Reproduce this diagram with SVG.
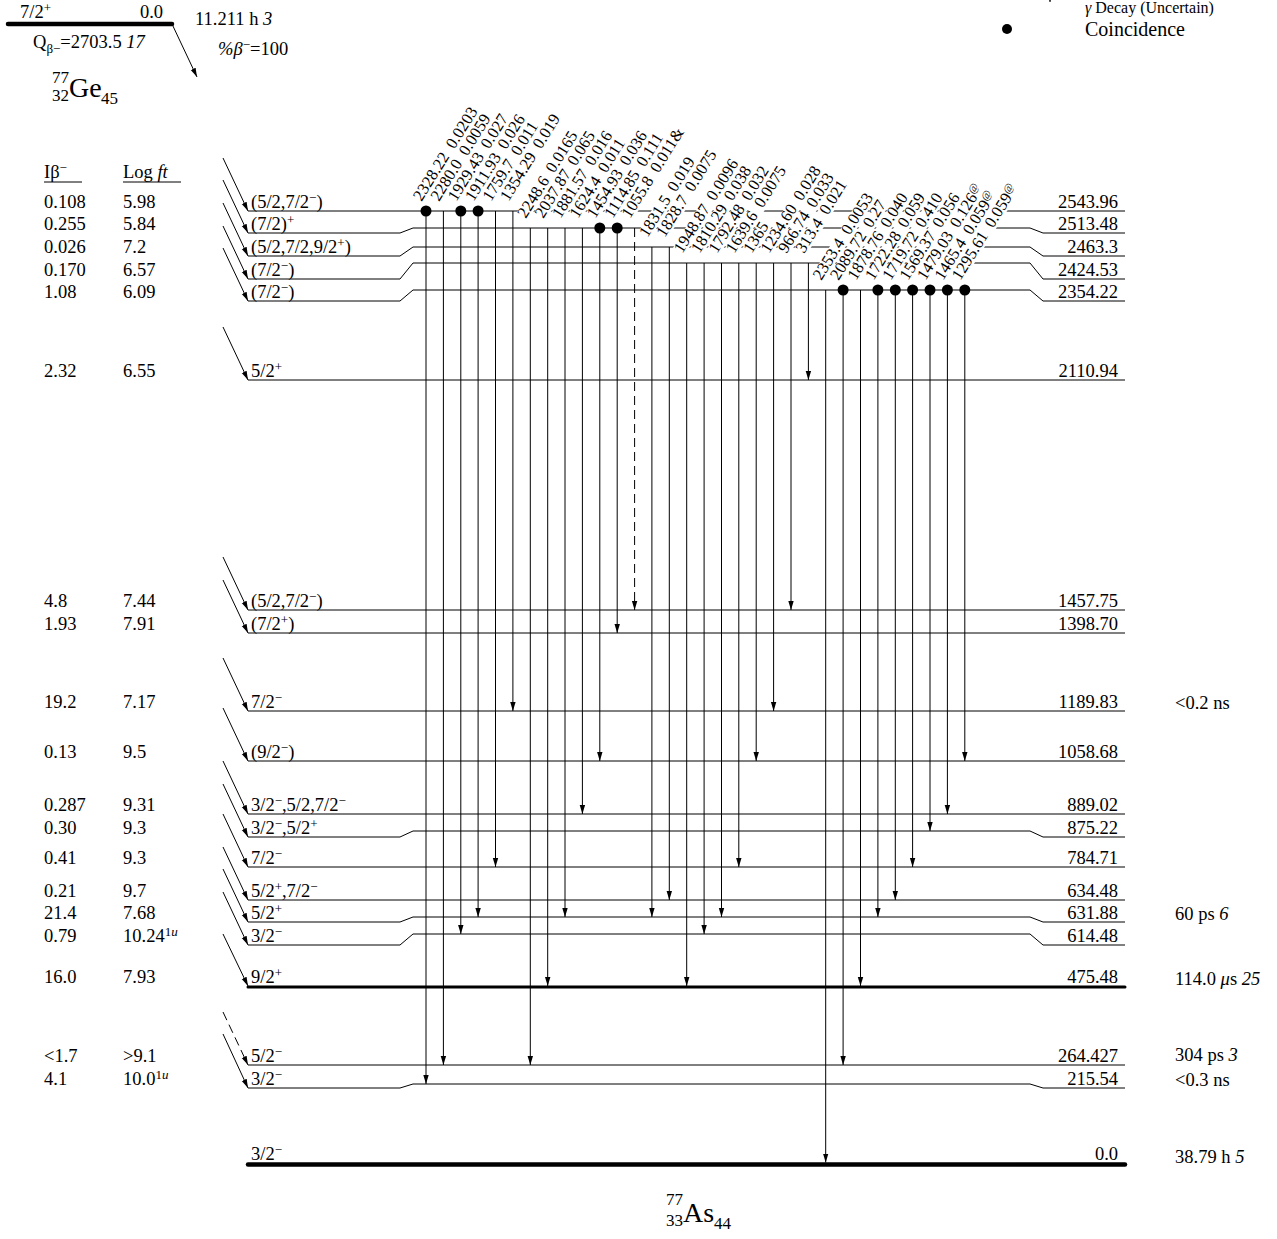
<svg xmlns="http://www.w3.org/2000/svg" width="1277" height="1239" viewBox="0 0 1277 1239">
<style>
text{font-family:"Liberation Serif","Times New Roman",serif;font-size:18.5px;fill:#000}
.e{text-anchor:end}
.g{font-size:16.5px}
.sup{font-size:13px;baseline-shift:6.5px}
.sub{font-size:13px;baseline-shift:-5px}
.gsup{font-size:11px;baseline-shift:5px}
.it{font-style:italic}
.lv{fill:none;stroke:#000;stroke-width:1}
.thick{fill:none;stroke:#000;stroke-linecap:round}
.ar{stroke:#000;stroke-width:1;marker-end:url(#ah)}
.dash{stroke-dasharray:9 5}
.bg{fill:#fff}
</style>
<defs>
<marker id="ah" markerUnits="userSpaceOnUse" markerWidth="9" markerHeight="8" viewBox="0 0 9 8" refX="9" refY="4" orient="auto"><path d="M0,1.3 L9,4 L0,6.7 z" fill="#000"/></marker>
</defs>
<rect width="1277" height="1239" fill="#fff"/>

<!-- parent -->
<g id="parent">
<line class="thick" x1="8" y1="24" x2="172" y2="24" stroke-width="4.5"/>
<text x="20" y="18">7/2<tspan class="sup">+</tspan></text>
<text class="e" x="163" y="18">0.0</text>
<text x="195" y="25">11.211 h <tspan class="it">3</tspan></text>
<text x="33" y="47.5">Q<tspan class="sub">β−</tspan>=2703.5 <tspan class="it">17</tspan></text>
<text x="218" y="55"><tspan class="it">%β</tspan><tspan class="sup">−</tspan>=100</text>
<text x="52" y="83" style="font-size:17px">77</text>
<text x="52" y="101" style="font-size:17px">32</text>
<text x="69" y="97" style="font-size:28px">Ge</text>
<text x="101" y="104" style="font-size:17px">45</text>
</g>

<!-- legend -->
<g id="legend">
<line x1="1050" y1="-20" x2="1050" y2="2" stroke="#000" stroke-width="1" stroke-dasharray="6 4" marker-end="url(#ah)"/>
<text x="1085" y="13" style="font-size:16px"><tspan class="it">γ</tspan> Decay (Uncertain)</text>
<circle cx="1007" cy="29" r="5"/>
<text x="1085" y="36" style="font-size:20px">Coincidence</text>
</g>

<!-- headers -->
<g id="headers">
<text x="44" y="178">Iβ<tspan class="sup">−</tspan></text>
<text x="123" y="178">Log <tspan class="it">ft</tspan></text>
<line x1="44" y1="182" x2="82" y2="182" stroke="#000" stroke-width="1"/>
<line x1="123" y1="182" x2="181" y2="182" stroke="#000" stroke-width="1"/>
</g>

<!-- levels -->
<g id="levels">
<g id="lvl-2543.96"><path class="lv" d="M248,211H1125"/><text x="251" y="208">(5/2,7/2<tspan class="sup">−</tspan>)</text><text class="e" x="1118" y="208">2543.96</text><text x="44" y="208">0.108</text><text x="123" y="208">5.98</text></g>
<g id="lvl-2513.48"><path class="lv" d="M248,233H400L413,228H1030L1043,233H1125"/><text x="251" y="230">(7/2)<tspan class="sup">+</tspan></text><text class="e" x="1118" y="230">2513.48</text><text x="44" y="230">0.255</text><text x="123" y="230">5.84</text></g>
<g id="lvl-2463.3"><path class="lv" d="M248,256H400L413,247H1030L1043,256H1125"/><text x="251" y="253">(5/2,7/2,9/2<tspan class="sup">+</tspan>)</text><text class="e" x="1118" y="253">2463.3</text><text x="44" y="253">0.026</text><text x="123" y="253">7.2</text></g>
<g id="lvl-2424.53"><path class="lv" d="M248,279H400L413,263H1030L1043,279H1125"/><text x="251" y="276">(7/2<tspan class="sup">−</tspan>)</text><text class="e" x="1118" y="276">2424.53</text><text x="44" y="276">0.170</text><text x="123" y="276">6.57</text></g>
<g id="lvl-2354.22"><path class="lv" d="M248,301H400L413,290H1030L1043,301H1125"/><text x="251" y="298">(7/2<tspan class="sup">−</tspan>)</text><text class="e" x="1118" y="298">2354.22</text><text x="44" y="298">1.08</text><text x="123" y="298">6.09</text></g>
<g id="lvl-2110.94"><path class="lv" d="M248,380H1125"/><text x="251" y="377">5/2<tspan class="sup">+</tspan></text><text class="e" x="1118" y="377">2110.94</text><text x="44" y="377">2.32</text><text x="123" y="377">6.55</text></g>
<g id="lvl-1457.75"><path class="lv" d="M248,610H1125"/><text x="251" y="607">(5/2,7/2<tspan class="sup">−</tspan>)</text><text class="e" x="1118" y="607">1457.75</text><text x="44" y="607">4.8</text><text x="123" y="607">7.44</text></g>
<g id="lvl-1398.70"><path class="lv" d="M248,633H1125"/><text x="251" y="630">(7/2<tspan class="sup">+</tspan>)</text><text class="e" x="1118" y="630">1398.70</text><text x="44" y="630">1.93</text><text x="123" y="630">7.91</text></g>
<g id="lvl-1189.83"><path class="lv" d="M248,711H1125"/><text x="251" y="708">7/2<tspan class="sup">−</tspan></text><text class="e" x="1118" y="708">1189.83</text><text x="44" y="708">19.2</text><text x="123" y="708">7.17</text><text x="1175" y="709">&lt;0.2 ns</text></g>
<g id="lvl-1058.68"><path class="lv" d="M248,761H1125"/><text x="251" y="758">(9/2<tspan class="sup">−</tspan>)</text><text class="e" x="1118" y="758">1058.68</text><text x="44" y="758">0.13</text><text x="123" y="758">9.5</text></g>
<g id="lvl-889.02"><path class="lv" d="M248,814H1125"/><text x="251" y="811">3/2<tspan class="sup">−</tspan>,5/2,7/2<tspan class="sup">−</tspan></text><text class="e" x="1118" y="811">889.02</text><text x="44" y="811">0.287</text><text x="123" y="811">9.31</text></g>
<g id="lvl-875.22"><path class="lv" d="M248,837H400L413,831H1030L1043,837H1125"/><text x="251" y="834">3/2<tspan class="sup">−</tspan>,5/2<tspan class="sup">+</tspan></text><text class="e" x="1118" y="834">875.22</text><text x="44" y="834">0.30</text><text x="123" y="834">9.3</text></g>
<g id="lvl-784.71"><path class="lv" d="M248,867H1125"/><text x="251" y="864">7/2<tspan class="sup">−</tspan></text><text class="e" x="1118" y="864">784.71</text><text x="44" y="864">0.41</text><text x="123" y="864">9.3</text></g>
<g id="lvl-634.48"><path class="lv" d="M248,900H1125"/><text x="251" y="897">5/2<tspan class="sup">+</tspan>,7/2<tspan class="sup">−</tspan></text><text class="e" x="1118" y="897">634.48</text><text x="44" y="897">0.21</text><text x="123" y="897">9.7</text></g>
<g id="lvl-631.88"><path class="lv" d="M248,922H400L413,917H1030L1043,922H1125"/><text x="251" y="919">5/2<tspan class="sup">+</tspan></text><text class="e" x="1118" y="919">631.88</text><text x="44" y="919">21.4</text><text x="123" y="919">7.68</text><text x="1175" y="920">60 ps <tspan class="it">6</tspan></text></g>
<g id="lvl-614.48"><path class="lv" d="M248,945H400L413,934H1030L1043,945H1125"/><text x="251" y="942">3/2<tspan class="sup">−</tspan></text><text class="e" x="1118" y="942">614.48</text><text x="44" y="942">0.79</text><text x="123" y="942">10.24<tspan class="sup">1<tspan class="it">u</tspan></tspan></text></g>
<g id="lvl-475.48"><path class="thick" stroke-width="3" d="M248,987H1125"/><text x="251" y="983">9/2<tspan class="sup">+</tspan></text><text class="e" x="1118" y="983">475.48</text><text x="44" y="983">16.0</text><text x="123" y="983">7.93</text><text x="1175" y="985">114.0 <tspan class="it">μ</tspan>s <tspan class="it">25</tspan></text></g>
<g id="lvl-264.427"><path class="lv" d="M248,1065H1125"/><text x="251" y="1062">5/2<tspan class="sup">−</tspan></text><text class="e" x="1118" y="1062">264.427</text><text x="44" y="1062">&lt;1.7</text><text x="123" y="1062">&gt;9.1</text><text x="1175" y="1061">304 ps <tspan class="it">3</tspan></text></g>
<g id="lvl-215.54"><path class="lv" d="M248,1088H400L413,1084H1030L1043,1088H1125"/><text x="251" y="1085">3/2<tspan class="sup">−</tspan></text><text class="e" x="1118" y="1085">215.54</text><text x="44" y="1085">4.1</text><text x="123" y="1085">10.0<tspan class="sup">1<tspan class="it">u</tspan></tspan></text><text x="1175" y="1086">&lt;0.3 ns</text></g>
<g id="lvl-0.0"><path class="thick" stroke-width="4.5" d="M248,1164.5H1125"/><text x="251" y="1160">3/2<tspan class="sup">−</tspan></text><text class="e" x="1118" y="1160">0.0</text><text x="1175" y="1163">38.79 h <tspan class="it">5</tspan></text></g>
</g>

<!-- connectors -->
<g id="connectors">
<line class="ar" x1="172" y1="24" x2="197" y2="77"/>
<line class="ar" x1="223" y1="158" x2="248" y2="211"/>
<line class="ar" x1="223" y1="180" x2="248" y2="233"/>
<line class="ar" x1="223" y1="203" x2="248" y2="256"/>
<line class="ar" x1="223" y1="226" x2="248" y2="279"/>
<line class="ar" x1="223" y1="248" x2="248" y2="301"/>
<line class="ar" x1="223" y1="327" x2="248" y2="380"/>
<line class="ar" x1="223" y1="557" x2="248" y2="610"/>
<line class="ar" x1="223" y1="580" x2="248" y2="633"/>
<line class="ar" x1="223" y1="658" x2="248" y2="711"/>
<line class="ar" x1="223" y1="708" x2="248" y2="761"/>
<line class="ar" x1="223" y1="761" x2="248" y2="814"/>
<line class="ar" x1="223" y1="784" x2="248" y2="837"/>
<line class="ar" x1="223" y1="814" x2="248" y2="867"/>
<line class="ar" x1="223" y1="847" x2="248" y2="900"/>
<line class="ar" x1="223" y1="869" x2="248" y2="922"/>
<line class="ar" x1="223" y1="892" x2="248" y2="945"/>
<line class="ar" x1="223" y1="934" x2="248" y2="986"/>
<line class="ar dash" x1="223" y1="1012" x2="248" y2="1065"/>
<line class="ar" x1="223" y1="1034" x2="248" y2="1088"/>
<line class="ar" x1="426" y1="211" x2="426" y2="1084"/>
<line class="ar" x1="443.4" y1="211" x2="443.4" y2="1065"/>
<line class="ar" x1="460.8" y1="211" x2="460.8" y2="934"/>
<line class="ar" x1="478.1" y1="211" x2="478.1" y2="917"/>
<line class="ar" x1="495.5" y1="211" x2="495.5" y2="867"/>
<line class="ar" x1="512.9" y1="211" x2="512.9" y2="711"/>
<line class="ar" x1="530.3" y1="228" x2="530.3" y2="1065"/>
<line class="ar" x1="547.7" y1="228" x2="547.7" y2="986"/>
<line class="ar" x1="565" y1="228" x2="565" y2="917"/>
<line class="ar" x1="582.4" y1="228" x2="582.4" y2="814"/>
<line class="ar" x1="599.8" y1="228" x2="599.8" y2="761"/>
<line class="ar" x1="617.2" y1="228" x2="617.2" y2="633"/>
<line class="ar dash" x1="634.6" y1="228" x2="634.6" y2="610"/>
<line class="ar" x1="651.9" y1="247" x2="651.9" y2="917"/>
<line class="ar" x1="669.3" y1="247" x2="669.3" y2="900"/>
<line class="ar" x1="686.7" y1="263" x2="686.7" y2="986"/>
<line class="ar" x1="704.1" y1="263" x2="704.1" y2="934"/>
<line class="ar" x1="721.5" y1="263" x2="721.5" y2="917"/>
<line class="ar" x1="738.8" y1="263" x2="738.8" y2="867"/>
<line class="ar" x1="756.2" y1="263" x2="756.2" y2="761"/>
<line class="ar" x1="773.6" y1="263" x2="773.6" y2="711"/>
<line class="ar" x1="791" y1="263" x2="791" y2="610"/>
<line class="ar" x1="808.4" y1="263" x2="808.4" y2="380"/>
<line class="ar" x1="825.7" y1="290" x2="825.7" y2="1162.5"/>
<line class="ar" x1="843.1" y1="290" x2="843.1" y2="1065"/>
<line class="ar" x1="860.5" y1="290" x2="860.5" y2="986"/>
<line class="ar" x1="877.9" y1="290" x2="877.9" y2="917"/>
<line class="ar" x1="895.3" y1="290" x2="895.3" y2="900"/>
<line class="ar" x1="912.6" y1="290" x2="912.6" y2="867"/>
<line class="ar" x1="930" y1="290" x2="930" y2="831"/>
<line class="ar" x1="947.4" y1="290" x2="947.4" y2="814"/>
<line class="ar" x1="964.8" y1="290" x2="964.8" y2="761"/>
</g>

<!-- label backgrounds -->
<g id="label-bg" class="bg">
<rect transform="translate(421.5,202) rotate(-58)" x="-1" y="-11" width="110" height="13.5"/>
<rect transform="translate(438.9,202) rotate(-58)" x="-1" y="-11" width="102" height="13.5"/>
<rect transform="translate(456.3,202) rotate(-58)" x="-1" y="-11" width="102" height="13.5"/>
<rect transform="translate(473.6,202) rotate(-58)" x="-1" y="-11" width="102" height="13.5"/>
<rect transform="translate(491,202) rotate(-58)" x="-1" y="-11" width="94" height="13.5"/>
<rect transform="translate(508.4,202) rotate(-58)" x="-1" y="-11" width="102" height="13.5"/>
<rect transform="translate(525.8,219) rotate(-58)" x="-1" y="-11" width="102" height="13.5"/>
<rect transform="translate(543.2,219) rotate(-58)" x="-1" y="-11" width="102" height="13.5"/>
<rect transform="translate(560.5,219) rotate(-58)" x="-1" y="-11" width="102" height="13.5"/>
<rect transform="translate(577.9,219) rotate(-58)" x="-1" y="-11" width="94" height="13.5"/>
<rect transform="translate(595.3,219) rotate(-58)" x="-1" y="-11" width="102" height="13.5"/>
<rect transform="translate(612.7,219) rotate(-58)" x="-1" y="-11" width="102" height="13.5"/>
<rect transform="translate(630.1,219) rotate(-58)" x="-1" y="-11" width="107" height="13.5"/>
<rect transform="translate(647.4,238) rotate(-58)" x="-1" y="-11" width="94" height="13.5"/>
<rect transform="translate(664.8,238) rotate(-58)" x="-1" y="-11" width="102" height="13.5"/>
<rect transform="translate(682.2,254) rotate(-58)" x="-1" y="-11" width="110" height="13.5"/>
<rect transform="translate(699.6,254) rotate(-58)" x="-1" y="-11" width="102" height="13.5"/>
<rect transform="translate(717,254) rotate(-58)" x="-1" y="-11" width="102" height="13.5"/>
<rect transform="translate(734.3,254) rotate(-58)" x="-1" y="-11" width="102" height="13.5"/>
<rect transform="translate(751.7,254) rotate(-58)" x="-1" y="-11" width="36" height="13.5"/>
<rect transform="translate(769.1,254) rotate(-58)" x="-1" y="-11" width="102" height="13.5"/>
<rect transform="translate(786.5,254) rotate(-58)" x="-1" y="-11" width="94" height="13.5"/>
<rect transform="translate(803.9,254) rotate(-58)" x="-1" y="-11" width="86" height="13.5"/>
<rect transform="translate(821.2,281) rotate(-58)" x="-1" y="-11" width="102" height="13.5"/>
<rect transform="translate(838.6,281) rotate(-58)" x="-1" y="-11" width="94" height="13.5"/>
<rect transform="translate(856,281) rotate(-58)" x="-1" y="-11" width="102" height="13.5"/>
<rect transform="translate(873.4,281) rotate(-58)" x="-1" y="-11" width="102" height="13.5"/>
<rect transform="translate(890.8,281) rotate(-58)" x="-1" y="-11" width="102" height="13.5"/>
<rect transform="translate(908.1,281) rotate(-58)" x="-1" y="-11" width="102" height="13.5"/>
<rect transform="translate(925.5,281) rotate(-58)" x="-1" y="-13" width="113" height="15.5"/>
<rect transform="translate(942.9,281) rotate(-58)" x="-1" y="-13" width="105" height="15.5"/>
<rect transform="translate(960.3,281) rotate(-58)" x="-1" y="-13" width="113" height="15.5"/>
</g>

<!-- gamma labels -->
<g id="gamma-labels">
<text class="g" transform="translate(421.5,202) rotate(-58)">2328.22<tspan dx="8">0.0203</tspan></text>
<text class="g" transform="translate(438.9,202) rotate(-58)">2280.0<tspan dx="8">0.0059</tspan></text>
<text class="g" transform="translate(456.3,202) rotate(-58)">1929.43<tspan dx="8">0.027</tspan></text>
<text class="g" transform="translate(473.6,202) rotate(-58)">1911.93<tspan dx="8">0.026</tspan></text>
<text class="g" transform="translate(491,202) rotate(-58)">1759.7<tspan dx="8">0.011</tspan></text>
<text class="g" transform="translate(508.4,202) rotate(-58)">1354.29<tspan dx="8">0.019</tspan></text>
<text class="g" transform="translate(525.8,219) rotate(-58)">2248.6<tspan dx="8">0.0165</tspan></text>
<text class="g" transform="translate(543.2,219) rotate(-58)">2037.87<tspan dx="8">0.065</tspan></text>
<text class="g" transform="translate(560.5,219) rotate(-58)">1881.57<tspan dx="8">0.016</tspan></text>
<text class="g" transform="translate(577.9,219) rotate(-58)">1624.4<tspan dx="8">0.011</tspan></text>
<text class="g" transform="translate(595.3,219) rotate(-58)">1454.93<tspan dx="8">0.036</tspan></text>
<text class="g" transform="translate(612.7,219) rotate(-58)">1114.85<tspan dx="8">0.111</tspan></text>
<text class="g" transform="translate(630.1,219) rotate(-58)">1055.8<tspan dx="8">0.011&amp;</tspan></text>
<text class="g" transform="translate(647.4,238) rotate(-58)">1831.5<tspan dx="8">0.019</tspan></text>
<text class="g" transform="translate(664.8,238) rotate(-58)">1828.7<tspan dx="8">0.0075</tspan></text>
<text class="g" transform="translate(682.2,254) rotate(-58)">1948.87<tspan dx="8">0.0096</tspan></text>
<text class="g" transform="translate(699.6,254) rotate(-58)">1810.29<tspan dx="8">0.038</tspan></text>
<text class="g" transform="translate(717,254) rotate(-58)">1792.48<tspan dx="8">0.032</tspan></text>
<text class="g" transform="translate(734.3,254) rotate(-58)">1639.6<tspan dx="8">0.0075</tspan></text>
<text class="g" transform="translate(751.7,254) rotate(-58)">1365</text>
<text class="g" transform="translate(769.1,254) rotate(-58)">1234.60<tspan dx="8">0.028</tspan></text>
<text class="g" transform="translate(786.5,254) rotate(-58)">966.74<tspan dx="8">0.033</tspan></text>
<text class="g" transform="translate(803.9,254) rotate(-58)">313.4<tspan dx="8">0.021</tspan></text>
<text class="g" transform="translate(821.2,281) rotate(-58)">2353.4<tspan dx="8">0.0053</tspan></text>
<text class="g" transform="translate(838.6,281) rotate(-58)">2089.72<tspan dx="8">0.27</tspan></text>
<text class="g" transform="translate(856,281) rotate(-58)">1878.76<tspan dx="8">0.040</tspan></text>
<text class="g" transform="translate(873.4,281) rotate(-58)">1722.28<tspan dx="8">0.059</tspan></text>
<text class="g" transform="translate(890.8,281) rotate(-58)">1719.72<tspan dx="8">0.410</tspan></text>
<text class="g" transform="translate(908.1,281) rotate(-58)">1569.37<tspan dx="8">0.056</tspan></text>
<text class="g" transform="translate(925.5,281) rotate(-58)">1479.03<tspan dx="8">0.126</tspan><tspan class="gsup">@</tspan></text>
<text class="g" transform="translate(942.9,281) rotate(-58)">1465.4<tspan dx="8">0.059</tspan><tspan class="gsup">@</tspan></text>
<text class="g" transform="translate(960.3,281) rotate(-58)">1295.61<tspan dx="8">0.059</tspan><tspan class="gsup">@</tspan></text>
</g>

<!-- coincidence dots -->
<g id="dots">
<circle cx="426" cy="211" r="5.5"/>
<circle cx="460.8" cy="211" r="5.5"/>
<circle cx="478.1" cy="211" r="5.5"/>
<circle cx="599.8" cy="228" r="5.5"/>
<circle cx="617.2" cy="228" r="5.5"/>
<circle cx="843.1" cy="290" r="5.5"/>
<circle cx="877.9" cy="290" r="5.5"/>
<circle cx="895.3" cy="290" r="5.5"/>
<circle cx="912.6" cy="290" r="5.5"/>
<circle cx="930" cy="290" r="5.5"/>
<circle cx="947.4" cy="290" r="5.5"/>
<circle cx="964.8" cy="290" r="5.5"/>
</g>

<!-- daughter -->
<g id="daughter">
<text x="666" y="1205" style="font-size:17px">77</text>
<text x="666" y="1226" style="font-size:17px">33</text>
<text x="683" y="1222" style="font-size:28px">As</text>
<text x="714" y="1229" style="font-size:17px">44</text>
</g>
</svg>
